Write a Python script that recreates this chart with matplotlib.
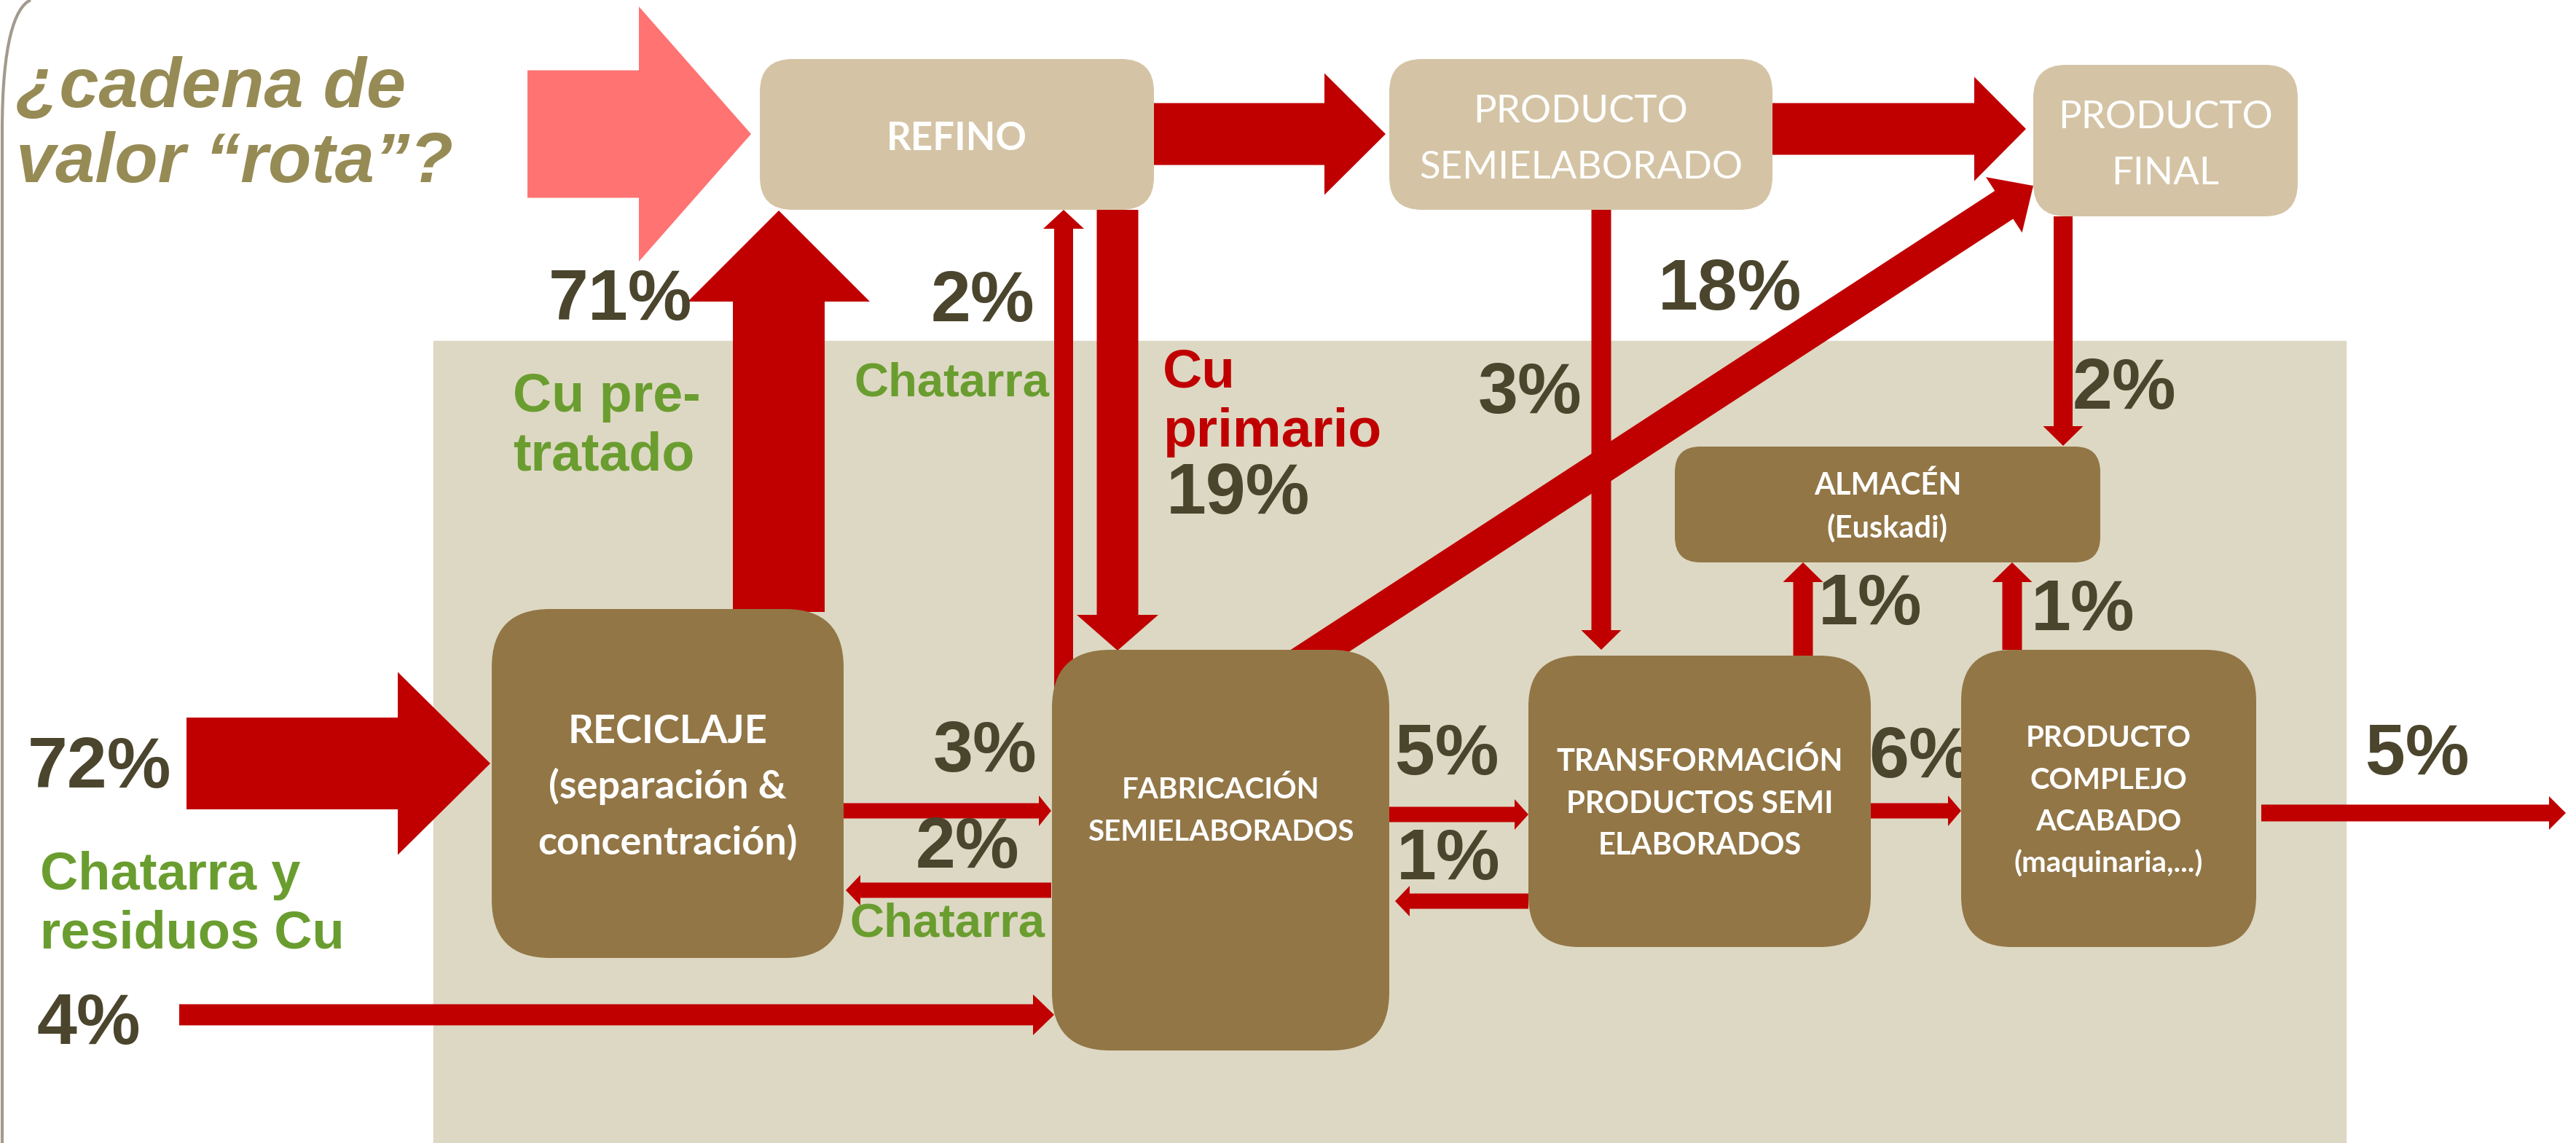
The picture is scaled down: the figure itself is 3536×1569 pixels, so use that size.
import matplotlib
matplotlib.use("Agg")
import matplotlib.pyplot as plt
import matplotlib.patches as mpatches
from matplotlib.path import Path

# colours
RED = "#C00000"
PINK = "#FF7373"
BROWN = "#927646"
LIGHT = "#D4C4A5"
PANEL = "#DDD8C3"
DARK = "#4B452D"
GREEN = "#6A9D2F"
OLIVE = "#978B55"

# title
title_lines = ["¿cadena de", "valor “rota”?"]

# boxes: label lines
box_names = ["REFINO", "SEMI", "FINAL", "RECICLAJE", "FABRICACION", "TRANSF", "COMPLEJO", "ALMACEN"]
box_lines = [
    ["REFINO"],
    ["PRODUCTO", "SEMIELABORADO"],
    ["PRODUCTO", "FINAL"],
    ["RECICLAJE", "(separación &", "concentración)"],
    ["FABRICACIÓN", "SEMIELABORADOS"],
    ["TRANSFORMACIÓN", "PRODUCTOS SEMI", "ELABORADOS"],
    ["PRODUCTO", "COMPLEJO", "ACABADO", "(maquinaria,...)"],
    ["ALMACÉN", "(Euskadi)"],
]

# flow percentages
flow_pct = ["72%", "71%", "2%", "19%", "18%", "3%", "2%", "3%", "2%", "5%", "1%", "6%", "5%", "1%", "1%", "4%"]

# flow descriptions
green_labels = ["Cu pre-", "tratado", "Chatarra", "Chatarra y", "residuos Cu", "Chatarra"]
red_labels = ["Cu", "primario"]

# ---- layout (pixel coordinates of the slide) ----
box_geom = {  # x0, y0, x1, y1, fill, radius
    "REFINO": (1043, 81, 1584, 288, LIGHT, 45),
    "SEMI": (1907, 81, 2433, 288, LIGHT, 45),
    "FINAL": (2791, 89, 3154, 297, LIGHT, 45),
    "RECICLAJE": (675, 836, 1158, 1315, BROWN, 80),
    "FABRICACION": (1444, 892, 1907, 1442, BROWN, 80),
    "TRANSF": (2098, 900, 2568, 1300, BROWN, 70),
    "COMPLEJO": (2692, 892, 3097, 1300, BROWN, 70),
    "ALMACEN": (2299, 613, 2883, 772, BROWN, 35),
}
box_text = {  # baselines, font size, weight
    "REFINO": ([206], 38, "bold"),
    "SEMI": ([168, 245], 38, "normal"),
    "FINAL": ([176, 253], 38, "normal"),
    "RECICLAJE": ([1020, 1096, 1173], 39, "bold"),
    "FABRICACION": ([1096, 1154], 29, "bold"),
    "TRANSF": ([1058, 1116, 1173], 30, "bold"),
    "COMPLEJO": ([1025, 1083, 1140, 1197], 29, "bold"),
    "ALMACEN": ([679, 737], 30, "bold"),
}

# arrows: x0, y0, x_tip, y_tip, shaft width, head width, head length, colour
arrows = [
    (724, 184, 1031, 184, 175, 350, 154, PINK),
    (256, 1048, 673, 1048, 126, 251, 127, RED),
    (1069, 840, 1069, 289, 126, 250, 125, RED),
    (1584, 184, 1902, 184, 85, 167, 84, RED),
    (2433, 177, 2781, 177, 71, 143, 71, RED),
    (1460, 1000, 1460, 288, 26, 56, 26, RED),
    (1534, 288, 1534, 893, 57, 112, 49, RED),
    (2198, 288, 2198, 892, 27, 55, 27, RED),
    (2832, 297, 2832, 612, 26, 55, 27, RED),
    (1780, 914, 2791, 255, 46, 91, 48, RED),
    (1158, 1113, 1443, 1113, 21, 42, 17, RED),
    (1443, 1222, 1161, 1222, 21, 42, 20, RED),
    (246, 1393, 1447, 1393, 29, 56, 29, RED),
    (1907, 1118, 2098, 1118, 21, 42, 19, RED),
    (2098, 1237, 1915, 1237, 21, 42, 20, RED),
    (2568, 1113, 2692, 1113, 21, 42, 18, RED),
    (3104, 1116, 3522, 1116, 23, 46, 23, RED),
    (2475, 901, 2475, 772, 27, 55, 27, RED),
    (2762, 892, 2762, 772, 27, 55, 27, RED),
]

pct_pos = [  # centre x, centre y, ha, zorder
    (137, 1056, "center", 5), (852, 413, "center", 5), (1349, 416, "center", 5),
    (1601, 680, "left", 5), (2374, 400, "center", 5), (2100, 541, "center", 5),
    (2916, 535, "center", 5), (1352, 1033, "center", 5), (1328, 1165, "center", 5),
    (1986, 1038, "center", 5), (1988, 1181, "center", 5), (2637, 1041, "center", 2.5),
    (3318, 1038, "center", 5), (2567, 831, "center", 5), (2859, 840, "center", 5),
    (122, 1408, "center", 5),
]
green_pos = [  # x, baseline, ha, size
    (704, 565, "left", 53), (704, 646, "left", 53), (1306, 543, "center", 47),
    (55, 1221, "left", 52), (55, 1302, "left", 52), (1166, 1285, "left", 47),
]
red_pos = [(1596, 532), (1596, 613)]

W, H = 3537, 1569
fig = plt.figure(figsize=(W / 100, H / 100), dpi=100)
ax = fig.add_axes([0, 0, 1, 1])
ax.set_xlim(0, W)
ax.set_ylim(H, 0)
ax.axis("off")

# beige panel behind the chain
ax.add_patch(mpatches.Rectangle((595, 468), 3220 - 595, H - 468, color=PANEL, zorder=0))

# left slide border
border = Path([(3, H), (3, 180), (3, 60), (20, 10), (42, 0)],
              [Path.MOVETO, Path.LINETO, Path.CURVE4, Path.CURVE4, Path.CURVE4])
ax.add_patch(mpatches.PathPatch(border, fill=False, edgecolor="#A39A8F", lw=3, zorder=1))

for x0, y0, x1, y1, w, hw, hl, c in arrows:
    ax.add_patch(mpatches.FancyArrow(x0, y0, x1 - x0, y1 - y0, width=w, head_width=hw,
                                     head_length=hl, length_includes_head=True,
                                     color=c, lw=0, zorder=2))

for name, lines in zip(box_names, box_lines):
    x0, y0, x1, y1, fc, r = box_geom[name]
    ax.add_patch(mpatches.FancyBboxPatch((x0, y0), x1 - x0, y1 - y0,
                                         boxstyle=f"round,pad=0,rounding_size={r}",
                                         fc=fc, ec="none", zorder=3))
    baselines, size, weight = box_text[name]
    for txt, yb in zip(lines, baselines):
        ax.text((x0 + x1) / 2, yb, txt, ha="center", va="baseline", color="white",
                fontsize=size, fontweight=weight, family="Lato", zorder=4)

for txt, (x, y, ha, z) in zip(flow_pct, pct_pos):
    ax.text(x, y, txt, ha=ha, va="center", color=DARK, fontsize=71,
            fontweight="bold", family="Liberation Sans", zorder=z)

for txt, (x, y, ha, size) in zip(green_labels, green_pos):
    ax.text(x, y, txt, ha=ha, va="baseline", color=GREEN, fontsize=size,
            fontweight="bold", family="Liberation Sans", zorder=5)

for txt, (x, y) in zip(red_labels, red_pos):
    ax.text(x, y, txt, ha="left", va="baseline", color=RED, fontsize=54,
            fontweight="bold", family="Liberation Sans", zorder=5)

for txt, yb in zip(title_lines, [147, 250]):
    ax.text(22, yb, txt, ha="left", va="baseline", color=OLIVE, fontsize=70,
            fontweight="bold", fontstyle="italic", family="Liberation Sans", zorder=5)

fig.savefig("out.png", dpi=100)
